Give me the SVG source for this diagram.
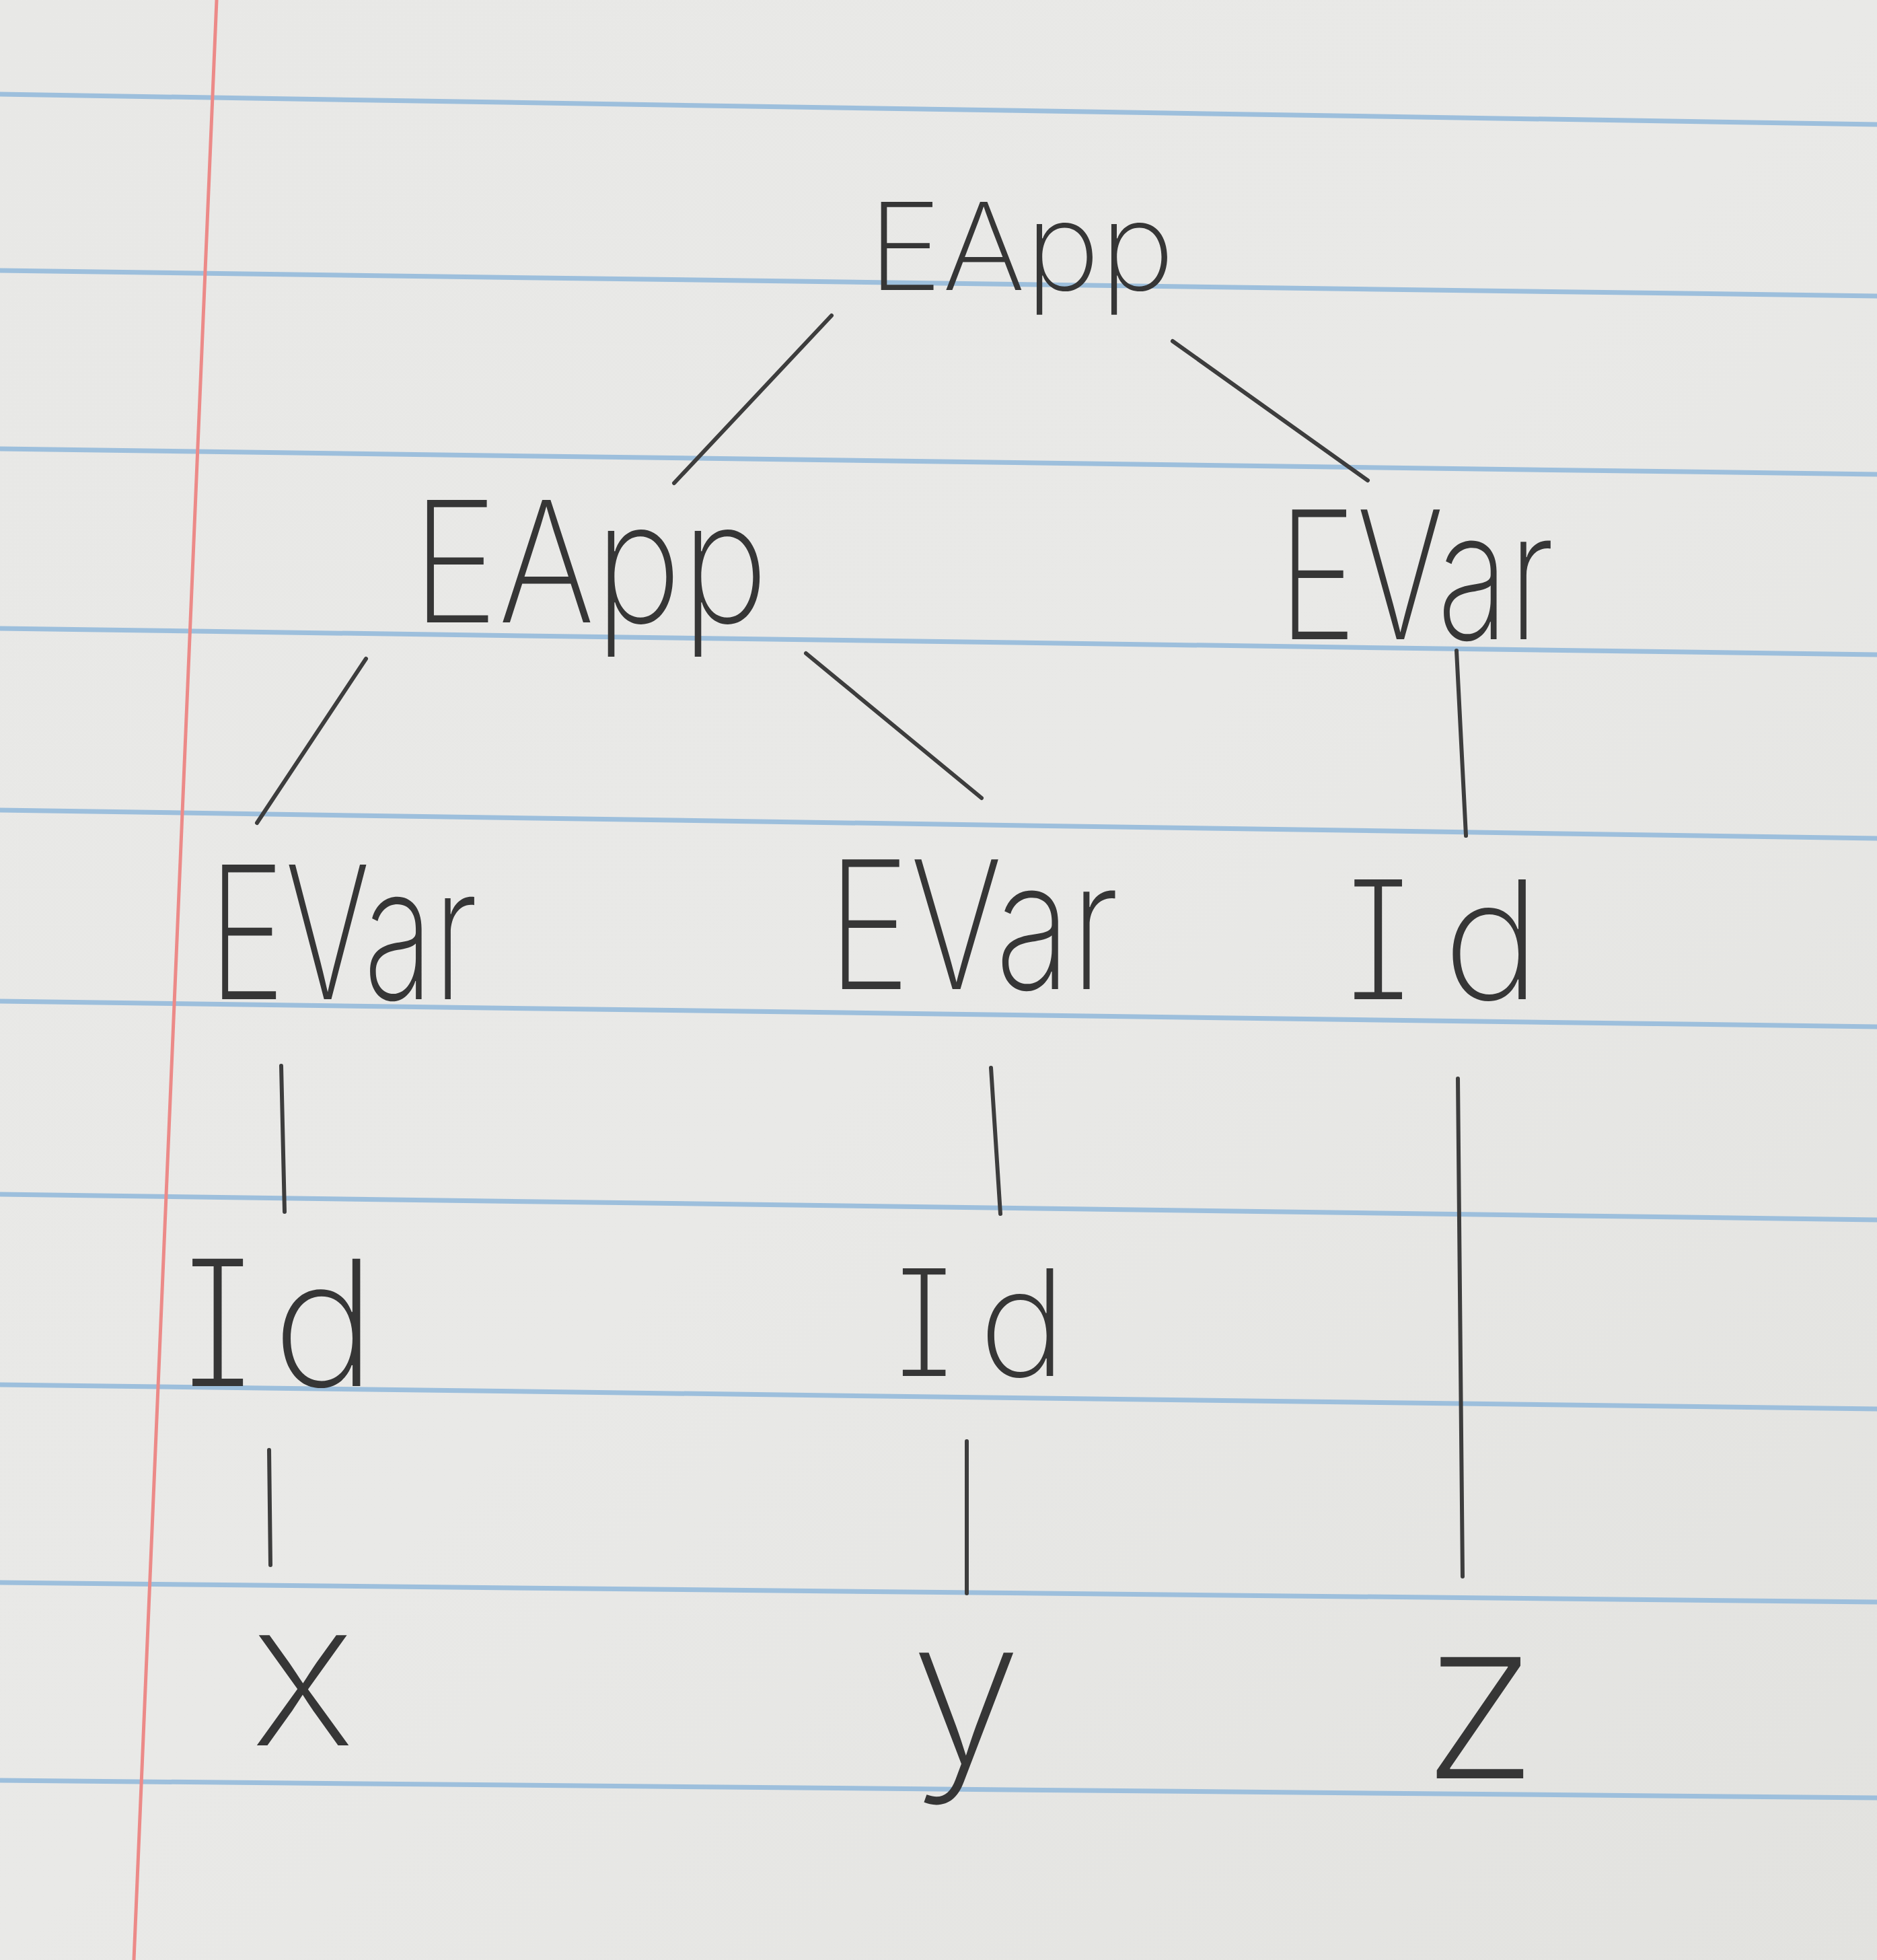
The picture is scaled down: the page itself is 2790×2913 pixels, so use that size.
<svg xmlns="http://www.w3.org/2000/svg" width="2790" height="2913" viewBox="0 0 2790 2913">
<defs>
<linearGradient id="paper" x1="0" y1="0" x2="1" y2="1">
<stop offset="0" stop-color="#e8e8e6"/>
<stop offset="0.5" stop-color="#e9e9e7"/>
<stop offset="1" stop-color="#e2e2df"/>
</linearGradient>
<style>
.rule{stroke:#9dbfdc;stroke-width:7;fill:none;stroke-linecap:round}
.margin{stroke:#ec8a88;stroke-width:5;fill:none}
.edge{stroke:#3d3d3d;stroke-width:6;fill:none;stroke-linecap:round}
.lbl{font-family:"Inter","Liberation Sans","DejaVu Sans",sans-serif;font-weight:200;fill:#363636}
.ser{font-feature-settings:"cv08" 1}
</style>
</defs>
<rect x="0" y="0" width="2790" height="2913" fill="url(#paper)"/>
<g id="paper-lines">
<line class="rule" x1="0" y1="140" x2="2790" y2="185"/>
<line class="rule" x1="0" y1="402" x2="2790" y2="440"/>
<line class="rule" x1="0" y1="667" x2="2790" y2="705"/>
<line class="rule" x1="0" y1="934" x2="2790" y2="973"/>
<line class="rule" x1="0" y1="1204" x2="2790" y2="1246"/>
<line class="rule" x1="0" y1="1488" x2="2790" y2="1526"/>
<line class="rule" x1="0" y1="1775" x2="2790" y2="1813"/>
<line class="rule" x1="0" y1="2058" x2="2790" y2="2094"/>
<line class="rule" x1="0" y1="2352" x2="2790" y2="2381"/>
<line class="rule" x1="0" y1="2646" x2="2790" y2="2672"/>
<line class="margin" x1="322" y1="0" x2="199" y2="2913"/>
</g>
<g id="connectors">
<line class="edge" x1="1236" y1="469" x2="1002" y2="718"/>
<line class="edge" x1="1743" y1="507" x2="2033" y2="714"/>
<line class="edge" x1="544" y1="979" x2="382" y2="1223"/>
<line class="edge" x1="1198" y1="971" x2="1459" y2="1186"/>
<line class="edge" x1="2165" y1="967" x2="2179" y2="1242"/>
<line class="edge" x1="418" y1="1584" x2="423" y2="1801"/>
<line class="edge" x1="1473" y1="1587" x2="1487" y2="1804"/>
<line class="edge" x1="2167" y1="1603" x2="2174" y2="2343"/>
<line class="edge" x1="400" y1="2155" x2="402" y2="2326"/>
<line class="edge" x1="1437" y1="2142" x2="1437" y2="2368"/>
</g>
<g id="n-root-eapp"><text class="lbl" x="1290" y="431" font-size="180" textLength="456" lengthAdjust="spacingAndGlyphs">EApp</text></g>
<g id="n-eapp-left"><text class="lbl" x="612" y="925" font-size="250" textLength="530" lengthAdjust="spacingAndGlyphs">EApp</text></g>
<g id="n-evar-right"><text class="lbl" x="1900" y="950" font-size="265" textLength="410" lengthAdjust="spacingAndGlyphs">EVar</text></g>
<g id="n-evar-left"><text class="lbl" x="310" y="1485" font-size="275" textLength="400" lengthAdjust="spacingAndGlyphs">EVar</text></g>
<g id="n-evar-mid"><text class="lbl" x="1230" y="1470" font-size="265" textLength="433" lengthAdjust="spacingAndGlyphs">EVar</text></g>
<g id="n-id-right"><text class="lbl ser" x="2000" y="1485" font-size="245"><tspan>I</tspan><tspan x="2145">d</tspan></text></g>
<g id="n-id-left"><text class="lbl ser" x="272" y="2060" font-size="260"><tspan>I</tspan><tspan x="405">d</tspan></text></g>
<g id="n-id-mid"><text class="lbl ser" x="1330" y="2045" font-size="220"><tspan>I</tspan><tspan x="1455">d</tspan></text></g>
<g id="n-x"><text class="lbl" x="450" y="2594" font-size="300" text-anchor="middle">x</text></g>
<g id="n-y"><text class="lbl" x="1436" y="2620" font-size="300" text-anchor="middle">y</text></g>
<g id="n-z"><text class="lbl" x="2200" y="2643" font-size="330" text-anchor="middle">z</text></g>
</svg>
